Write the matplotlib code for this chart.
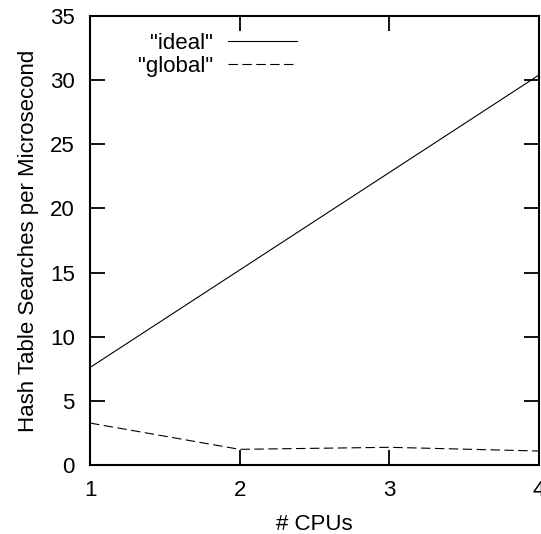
import matplotlib
matplotlib.use("Agg")
import matplotlib.pyplot as plt

cpus = [1, 2, 3, 4]
ideal = [7.6, 15.2, 22.8, 30.4]
global_ = [3.27, 1.22, 1.38, 1.09]
xticks = [1, 2, 3, 4]
yticks = [0, 5, 10, 15, 20, 25, 30, 35]

plt.rcParams['font.family'] = ['Liberation Sans', 'DejaVu Sans']
plt.rcParams['font.size'] = 16

fig = plt.figure(figsize=(5.41, 5.34), dpi=100)
ax = fig.add_axes([90/541, 69/534, 449/541, 449/534])

ax.plot(cpus, ideal, color='black', lw=0.8, label='"ideal"')
ax.plot(cpus, global_, color='black', lw=0.8, dashes=(8.5, 4), label='"global"')

ax.set_xlim(1, 4)
ax.set_ylim(0, 35)
ax.set_xticks(xticks)
ax.set_yticks(yticks)
ax.tick_params(direction='in', length=10.8, width=1.3, top=True, right=True,
               labelsize=16)
ax.tick_params(axis='y', pad=11)
ax.tick_params(axis='x', pad=11)
for s in ax.spines.values():
    s.set_linewidth(1.5)

ax.set_xlabel('# CPUs', fontsize=16, labelpad=9)
ax.set_ylabel('Hash Table Searches per Microsecond', fontsize=16, labelpad=8)

leg = ax.legend(loc='upper right', bbox_to_anchor=(0.461, 0.963), frameon=False,
                markerfirst=False, handlelength=3.1, handletextpad=0.68,
                borderpad=0, borderaxespad=0, labelspacing=0.1, fontsize=16)
for t in leg.get_texts():
    t.set_ha('right')

fig.savefig('out.png', dpi=100)
